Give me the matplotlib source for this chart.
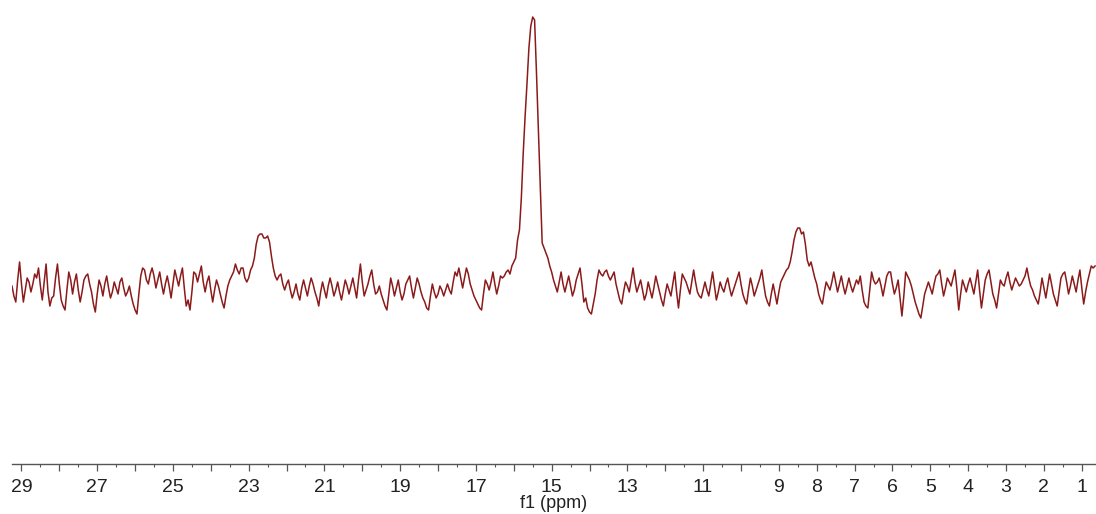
import numpy as np
import matplotlib
matplotlib.use("Agg")
import matplotlib.pyplot as plt
from matplotlib.ticker import FixedLocator, MultipleLocator

# Spectrum sampled every 0.05 ppm, from 29.25 ppm down to 0.65 ppm
ppm_start = 29.25
ppm_step = 0.05

# Intensity above baseline (arbitrary units) (1 ppm per row)
intensidad = [
    2, -8, -14, 8, 26, 4, -14, -2, 10, 6, -4, 4, 14, 10, 20, 2, -12, 6, 24, -4,
    -18, -10, -8, 10, 24, 4, -12, -18, -22, -2, 16, 8, -6, 6, 14, -2, -14, -4, 8, 12,
    14, 4, -4, -16, -24, -6, 8, 2, -8, 4, 12, 0, -10, -4, 6, 0, -6, 6, 10, 0,
    -8, -4, 2, -8, -16, -22, -26, -6, 12, 20, 18, 8, 4, 14, 20, 12, 0, 8, 16, 4,
    -6, 4, 12, 2, -10, 4, 18, 10, 2, 12, 20, 0, -18, -12, -22, -4, 16, 14, 6, 14,
    22, 6, -4, 6, 12, -2, -14, -2, 8, 2, -6, -14, -20, -8, 2, 8, 12, 16, 24, 18,
    14, 20, 20, 10, 6, 10, 18, 22, 30, 44, 52, 54, 54, 50, 50, 52, 46, 32, 20, 12,
    8, 12, 14, 4, -2, 4, 8, -2, -10, -4, 4, -6, -12, 0, 8, 0, -8, 2, 10, 4,
    -4, -10, -18, -4, 6, -2, -10, 2, 10, 2, -8, -2, 6, -4, -12, -2, 8, 2, -6, 2,
    10, 0, -10, 8, 24, 6, -8, -2, 4, 12, 18, 4, -6, -4, 2, -6, -12, -18, -22, -6,
    10, 2, -8, 0, 8, -4, -12, -6, 4, 8, 12, 0, -10, 0, 10, 4, -4, -10, -14, -20,
    -22, -8, 4, -4, -10, -6, 2, -2, -8, -2, 4, -2, -6, 6, 16, 12, 20, 10, 0, 10,
    20, 14, 4, -2, -8, -12, -16, -20, -22, -6, 8, 4, -2, 6, 16, 4, -6, 2, 12, 10,
    12, 16, 18, 14, 22, 26, 30, 48, 58, 90, 135, 172, 205, 240, 262, 271, 268, 215, 158, 100,
    45, 40, 35, 30, 22, 16, 8, 2, -4, 6, 16, 4, -4, 4, 12, 2, -8, -2, 8, 14,
    20, 4, -14, -10, -20, -24, -26, -16, -6, 8, 18, 14, 12, 16, 18, 12, 8, 12, 16, 4,
    -4, -12, -16, -4, 6, 2, -4, 8, 20, 6, -4, 2, 8, -2, -12, -6, 6, -2, -10, 0,
    12, 4, -4, -12, -18, -6, 4, -2, -8, 4, 16, -4, -20, -2, 14, 10, 6, 0, -6, 6,
    18, 6, -4, -8, -10, -2, 6, -2, -8, 4, 16, 2, -12, -4, 6, 0, -4, 4, 10, 0,
    -8, -2, 4, 10, 16, 4, -6, -12, -16, -2, 10, 2, -8, -2, 4, 10, 18, 4, -8, -14,
    -18, -6, 4, -6, -16, -4, 6, 10, 14, 18, 20, 26, 36, 48, 56, 60, 60, 54, 56, 44,
    28, 22, 26, 18, 10, 4, -6, -12, -16, -4, 6, 2, -2, 6, 16, 6, -4, 4, 12, 2,
    -6, 2, 10, 2, -4, 2, 8, 4, 12, -2, -14, -18, -20, -2, 16, 8, 4, 6, 10, 2,
    -8, 2, 12, 16, 16, 4, -6, 0, 8, -10, -28, -8, 16, 12, 8, 2, -6, -14, -20, -26,
    -30, -18, -6, 0, 6, 0, -6, 4, 12, 14, 18, 4, -8, 0, 10, 6, 2, 10, 18, 0,
    -22, -6, 8, 2, -4, 4, 10, 2, -6, 6, 18, -2, -20, -6, 8, 14, 18, 6, -6, -12,
    -20, -6, 8, 4, 2, 10, 16, 6, -2, 4, 10, 6, 2, 4, 8, 12, 20, 10, 2, -2,
    -8, -12, -16, -4, 10, 0, -10, 2, 14, 4, -6, -12, -18, -4, 10, 14, 16, 6, -6, 2,
    12, 4, -4, 8, 18, 0, -16, -4, 6, 14, 22, 20, 22,
]

ppm = ppm_start - ppm_step * np.arange(len(intensidad))

# Axis ticks: one per ppm, labels only on some of them
ticks_mayores = list(range(1, 30))
ticks_con_texto = [29, 27, 25, 23, 21, 19, 17, 15, 13, 11, 9, 8, 7, 6, 5, 4, 3, 2, 1]
etiquetas = [str(t) if t in ticks_con_texto else "" for t in ticks_mayores]

plt.rcParams["font.family"] = ["Liberation Sans", "DejaVu Sans"]

fig = plt.figure(figsize=(10.96, 5.14), dpi=100)
ax = fig.add_axes([12 / 1096, 1 - 464 / 514, 1 - 12 / 1096, 464 / 514])

ax.plot(ppm, intensidad, color="#8b1a1a", linewidth=1.1)

ax.set_xlim(29.25, 0.625)
ax.set_ylim(-176, 288)

for lado in ["top", "left", "right"]:
    ax.spines[lado].set_visible(False)
ax.spines["bottom"].set_color("#555555")
ax.spines["bottom"].set_linewidth(1.0)

ax.set_yticks([])
ax.xaxis.set_major_locator(FixedLocator(ticks_mayores))
ax.set_xticklabels(etiquetas)
ax.xaxis.set_minor_locator(MultipleLocator(0.5))
ax.tick_params(axis="x", which="major", direction="out", length=5, width=0.9,
               color="#555555", labelsize=14, labelcolor="#222222", pad=6)
ax.tick_params(axis="x", which="minor", direction="out", length=2.5, width=0.8,
               color="#555555")

ax.set_xlabel("f1 (ppm)", fontsize=13, color="#222222", labelpad=-1)

fig.savefig("out.png", dpi=100)
